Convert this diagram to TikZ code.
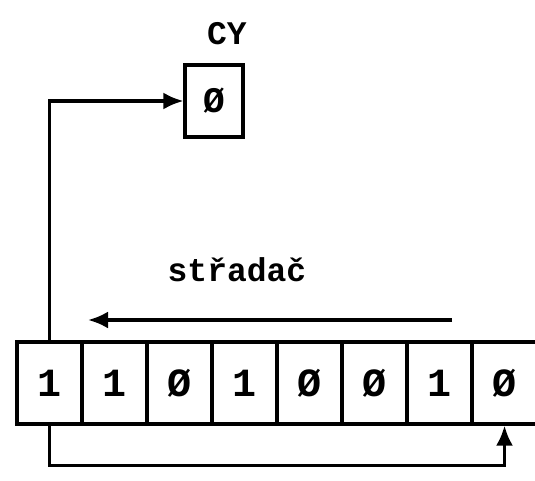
\documentclass[tikz,border=0pt]{standalone}
\usepackage{fontspec}
\setmonofont{Liberation Mono}
\usepackage{tikz}
\usetikzlibrary{calc,arrows.meta}

\begin{document}
\begin{tikzpicture}[x=1pt,y=-1pt]
  \tikzstyle{directed}=[-{Latex[length=20pt,width=17pt]}, line width=3.4pt, color=black]
  \tikzstyle{cell}=[draw, line width=3.2pt, minimum width=65pt, minimum height=82pt, inner sep=0pt,
    font=\fontsize{40}{46}\selectfont\ttfamily\bfseries]
  \useasboundingbox (0,0) rectangle (535,480);
  \node[font=\fontsize{33}{38}\selectfont\ttfamily\bfseries] (cylabel) at (227,34) {CY};
  \node[cell, minimum width=58pt, minimum height=72pt, font=\fontsize{36}{40}\selectfont\ttfamily\bfseries] (cy) at (214,101) {Ø};
  \foreach \v [count=\i from 0] in {1,1,Ø,1,Ø,Ø,1,Ø} {
    \node[cell] (c\i) at ({49.5+65*\i},383) {\v};
  }
  \node[font=\fontsize{33}{38}\selectfont\ttfamily\bfseries] (acc) at (237,270) {střadač};
  \coordinate (shiftR) at (452,320);
  \coordinate (shiftL) at (88,320);
  \draw[directed] (shiftR) -- (shiftL);
  \draw[directed] (c0.north) |- (cy.west);
  \draw[directed] (c0.south) -- ++(0,40) -| (c7.south);
\end{tikzpicture}
\end{document}
